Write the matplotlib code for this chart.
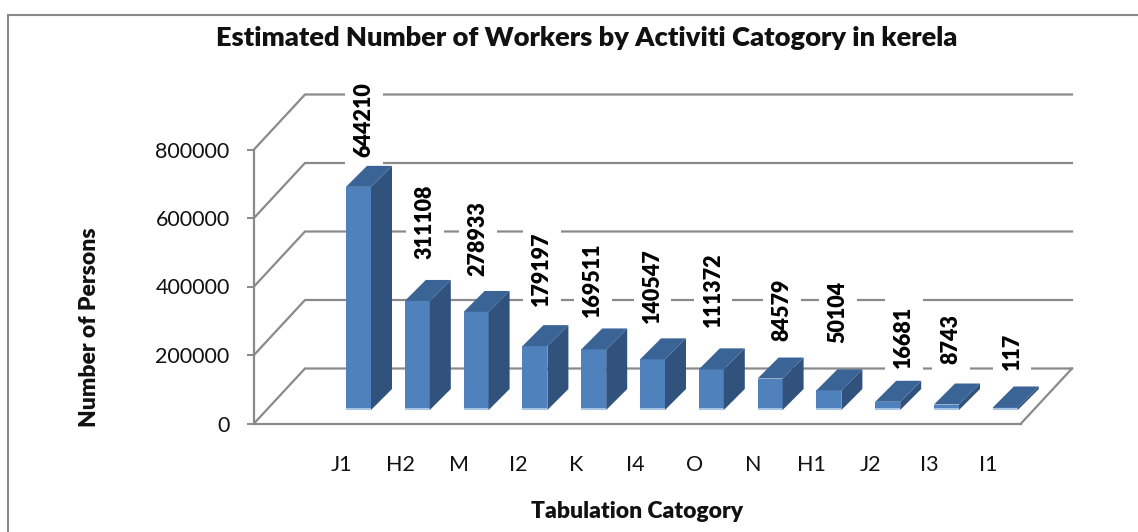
import matplotlib
matplotlib.use("Agg")
import matplotlib.pyplot as plt
from matplotlib.lines import Line2D

categories = ["J1", "H2", "M", "I2", "K", "I4", "O", "N", "H1", "J2", "I3", "I1"]
values = [644210, 311108, 278933, 179197, 169511, 140547, 111372, 84579, 50104, 16681, 8743, 117]
y_ticks = [0, 200000, 400000, 600000, 800000]

W, H = 1138, 532
plt.rcParams["font.family"] = ["Lato", "DejaVu Sans"]
fig = plt.figure(figsize=(W / 100, H / 100), dpi=100)
fig.patch.set_facecolor("white")

L, R, T, B = 254, 1021, 149.5, 423.5
ax = fig.add_axes([L / W, 1 - B / H, (R - L) / W, (B - T) / H])
step = 58.8
x0 = 358.5
ax.set_xlim((L - x0) / step, (R - x0) / step)
ax.set_ylim(0, 800000)
ax.patch.set_alpha(0)
px_x = 1 / step
px_y = 800000 / (B - T)

GREY = "#8a8a8a"
depth_x, depth_y = 51 * px_x, 55 * px_y
for s in ["top", "right"]:
    ax.spines[s].set_visible(False)
for s in ["left", "bottom"]:
    ax.spines[s].set_color(GREY)
    ax.spines[s].set_linewidth(1.6)
xmin, xmax = ax.get_xlim()
for v in y_ticks:
    ax.plot([xmin, xmin + depth_x, xmax + depth_x], [v, v + depth_y, v + depth_y],
            color=GREY, lw=1.6, clip_on=False, zorder=1, solid_joinstyle="miter")
ax.plot([xmax, xmax + depth_x], [0, depth_y], color=GREY, lw=1.6, clip_on=False, zorder=1)

pos = list(range(len(categories)))
ax.set_yticks(y_ticks)
ax.set_yticklabels([str(v) for v in y_ticks], fontsize=15.5, color="#111111")
ax.tick_params(axis="y", length=5, width=1.4, color=GREY, pad=12.5)
ax.set_xticks([p - 0.29 for p in pos])
ax.set_xticklabels(categories, fontsize=15.5, color="#111111")
ax.tick_params(axis="x", length=0, pad=23)

base = 16 * px_y
w = 25 * px_x
bx, by = 21 * px_x, 21 * px_y
strip = 2.5 * px_y
FRONT, SIDE, TOP, EDGE = "#4f81bd", "#31527c", "#3b6496", "#a7c4e6"
for p, v in zip(pos, values):
    l, r = p - w / 2, p + w / 2
    t = base + v
    ax.bar(p, v, width=w, bottom=base, color=FRONT, zorder=3, clip_on=False)
    ax.bar(p, strip, width=w, bottom=base - strip, color=EDGE, zorder=3, clip_on=False)
    ax.fill([r, r + bx, r + bx, r], [base - strip, base - strip + by, t + by, t], color=SIDE, lw=0, zorder=3, clip_on=False)
    ax.fill([l, l + bx, r + bx, r], [t, t + by, t + by, t], color=TOP, lw=0, zorder=3, clip_on=False)

label_dx = [5.5, 7.7, 2, 7, -1, 0, 2, 12, 9, 16, 4.5, 7]
label_dy = [9, 21, 14.5, 19.6, 11, 15, 21, 17, 26, 13, 20, 16]
for p, v, dx, dy in zip(pos, values, label_dx, label_dy):
    ax.annotate(str(v), xy=(p, base + v + by), xytext=(dx, dy), textcoords="offset pixels",
                rotation=90, ha="center", va="bottom", fontsize=15.5, fontweight="heavy", color="#000000",
                zorder=2, annotation_clip=False,
                bbox=dict(facecolor="white", edgecolor="none", pad=6))

fig.text(587 / W, 1 - 38 / H, "Estimated Number of Workers by Activiti Catogory in kerela",
         ha="center", va="center", fontsize=19.6, fontweight="heavy", color="#111111")
fig.text(90 / W, 1 - 327 / H, "Number of Persons", rotation=90, ha="center", va="center",
         fontsize=16.5, fontweight="heavy", color="#111111")
fig.text(637 / W, 1 - 512 / H, "Tabulation Catogory", ha="center", va="center",
         fontsize=16.5, fontweight="heavy", color="#111111")

fig.add_artist(Line2D([7.5 / W, 7.5 / W, 1], [0, 1 - 14.5 / H, 1 - 14.5 / H], transform=fig.transFigure,
                      color=GREY, lw=1.5, solid_joinstyle="miter"))
fig.savefig("out.png", dpi=100)
